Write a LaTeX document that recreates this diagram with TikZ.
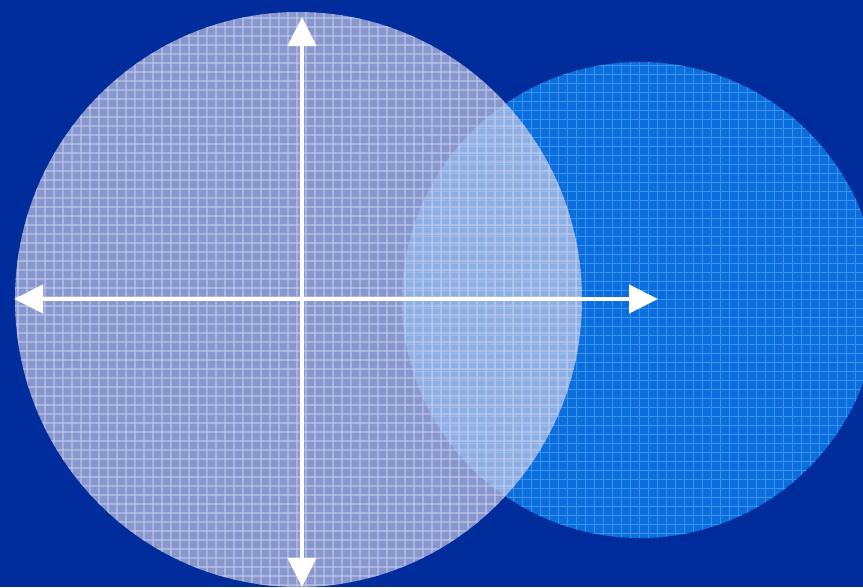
\documentclass[tikz,border=0pt]{standalone}
\usepackage{xcolor}
\usepackage{tikz}
\usetikzlibrary{arrows.meta}
\definecolor{navy}{HTML}{002C9C}
\definecolor{skyblue}{HTML}{0A6EDC}
\definecolor{skygrid}{HTML}{3C92EE}
\definecolor{paleblue}{HTML}{D8D6EA}
\definecolor{palegrid}{HTML}{C4CCEC}

\begin{document}
\begin{tikzpicture}[x=1pt,y=-1pt,
  axis/.style={white,line width=4.5pt,-{Triangle[length=29pt,width=28pt]}}]
\useasboundingbox (0,0) rectangle (863,587);
\fill[navy] (0,0) rectangle (863,587);
% right circle
\fill[skyblue] (640,300) circle (238);
\begin{scope}
  \clip (640,300) circle (238);
  \foreach \k in {0,...,54}{
    \draw[skygrid,line width=1pt] (396+9*\k,56) -- (396+9*\k,545);
    \draw[skygrid,line width=1pt] (396,56+9*\k) -- (880,56+9*\k);}
\end{scope}
% left circle, see-through
\fill[paleblue,opacity=.63] (298.5,299.5) ellipse (283.5 and 287.5);
\begin{scope}
  \clip (298.5,299.5) ellipse (283.5 and 287.5);
  \foreach \k in {0,...,65}{
    \draw[palegrid,line width=1.2pt,opacity=.55] (9+9*\k,9) -- (9+9*\k,590);
    \draw[palegrid,line width=1.2pt,opacity=.55] (9,9+9*\k) -- (590,9+9*\k);}
\end{scope}
% axes
\coordinate (mid) at (302,299);
\coordinate (top) at (302,17);
\coordinate (bottom) at (302,587);
\coordinate (left) at (14,299);
\coordinate (right) at (658,299);
\draw[axis] (mid) -- (top);
\draw[axis] (mid) -- (bottom);
\draw[axis] (mid) -- (left);
\draw[axis] (mid) -- (right);
\end{tikzpicture}
\end{document}
